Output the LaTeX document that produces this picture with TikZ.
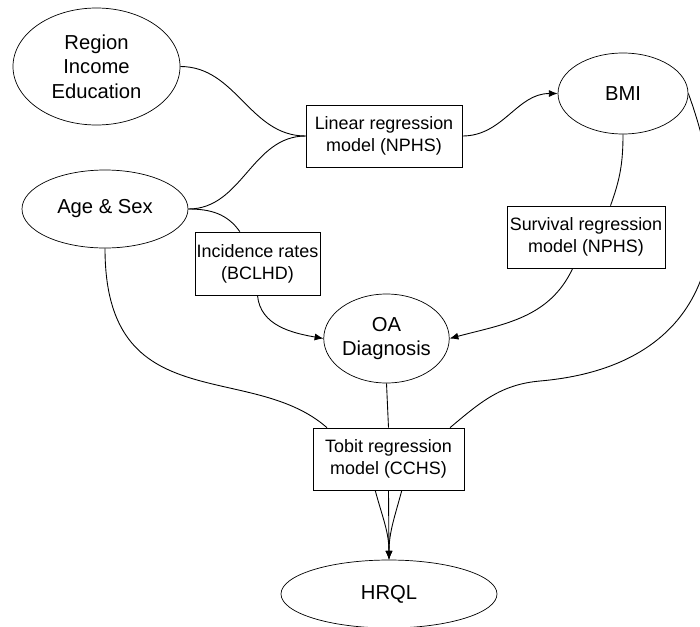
\documentclass[tikz,border=0pt]{standalone}
\usepackage{fontspec}
\setmainfont{Liberation Sans}
\usetikzlibrary{shapes}
\usetikzlibrary{arrows.meta}

\begin{document}
\begin{tikzpicture}[
	oval/.style={ellipse, draw, inner sep=0pt, align=center, font=\fontsize{11.5}{14}\selectfont},
	model/.style={rectangle, draw, inner sep=1pt, align=center, font=\fontsize{10.2}{12.5}\selectfont},
	link/.style={line width=0.5pt},
	pointer/.style={link, -{Latex[length=5pt,width=4pt]}}
]
	\useasboundingbox (0,0) rectangle (14,-12.52);

	% factors
	\node[oval, minimum width=3.34cm, minimum height=2.34cm] (region) at (1.93,-1.33) {Region\\Income\\Education};
	\node[oval, minimum width=3.32cm, minimum height=1.56cm] (agesex) at (2.10,-4.18) {Age \& Sex};
	\node[oval, minimum width=2.6cm, minimum height=1.62cm] (bmi) at (12.46,-1.87) {BMI};
	\node[oval, minimum width=2.42cm, minimum height=1.78cm] (oa) at (7.73,-6.77) {OA\\Diagnosis};
	\node[oval, minimum width=4.32cm, minimum height=1.36cm] (hrql) at (7.78,-11.88) {HRQL};

	% models
	\node[model, minimum width=3.12cm, minimum height=1.24cm] (linear) at (7.68,-2.72) {Linear regression\\model (NPHS)};
	\node[model, minimum width=3.16cm, minimum height=1.24cm] (survival) at (11.72,-4.74) {Survival regression\\model (NPHS)};
	\node[model, minimum width=2.46cm, minimum height=1.26cm] (incidence) at (5.15,-5.27) {Incidence rates\\(BCLHD)};
	\node[model, minimum width=3.02cm, minimum height=1.24cm] (tobit) at (7.77,-9.18) {Tobit regression\\model (CCHS)};

	% connectors
	\draw[link] (region.east) to[out=0, in=180] (linear.west);
	\draw[link] (agesex.east) to[out=0, in=180] (linear.west);
	\draw[pointer] (linear.east) to[out=0, in=180] (bmi.west);
	\draw[link] (agesex.east) to[out=0, in=125] (incidence.119);
	\draw[pointer] (incidence.south) to[out=-85, in=170] (oa.west);
	\draw[link] (bmi.south) to[out=-90, in=70] (survival.52);
	\draw[pointer] (survival.247) to[out=-115, in=15] (oa.east);
	\draw[link] (agesex.south) .. controls (2.1,-8.4) and (5.0,-7.2) .. (tobit.153);
	\draw[link] (bmi.east) to[out=-70, in=5, looseness=1.3] (10.8,-7.62) to[out=185, in=40] (tobit.27);
	\draw[link] (oa.south) -- (tobit.north);
	\draw[pointer] (tobit.247) to[out=-75, in=90] (hrql.north);
	\draw[pointer] (tobit.south) -- (hrql.north);
	\draw[pointer] (tobit.293) to[out=-105, in=90] (hrql.north);
\end{tikzpicture}
\end{document}
